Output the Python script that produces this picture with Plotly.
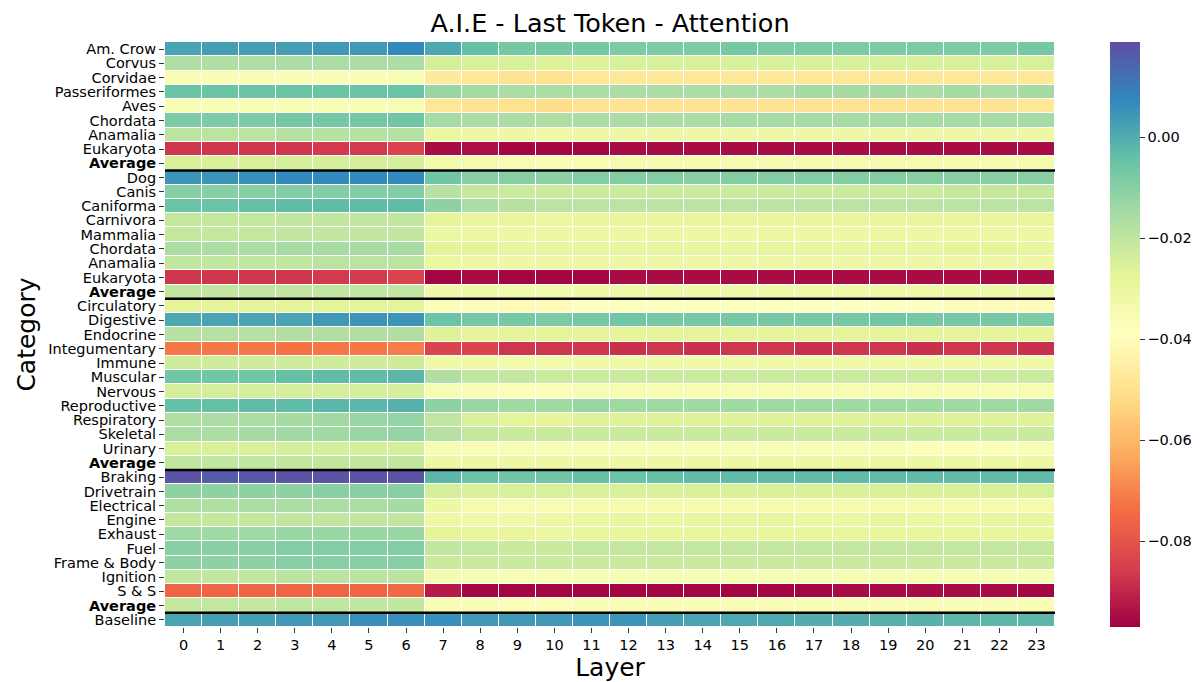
import plotly.graph_objects as go

layers = list(range(24))

categories = ["Am. Crow", "Corvus", "Corvidae", "Passeriformes", "Aves", "Chordata", "Anamalia", "Eukaryota", "Average",
              "Dog", "Canis", "Caniforma", "Carnivora", "Mammalia", "Chordata", "Anamalia", "Eukaryota", "Average",
              "Circulatory", "Digestive", "Endocrine", "Integumentary", "Immune", "Muscular", "Nervous", "Reproductive",
              "Respiratory", "Skeletal", "Urinary", "Average",
              "Braking", "Drivetrain", "Electrical", "Engine", "Exhaust", "Fuel", "Frame & Body", "Ignition", "S & S", "Average",
              "Baseline"]

birds = [
    [0.002,0.003,0.003,0.003,0.004,0.004,0.007, 0.001,-0.004,-0.007,-0.007,-0.007,-0.008,-0.008,-0.008,-0.007,-0.008,-0.008,-0.008,-0.008,-0.008,-0.008,-0.008,-0.007],
    [-0.017,-0.017,-0.017,-0.016,-0.016,-0.016,-0.016, -0.024,-0.025,-0.025,-0.026,-0.026,-0.025,-0.025,-0.025,-0.025,-0.025,-0.025,-0.025,-0.025,-0.025,-0.025,-0.025,-0.025],
    [-0.036,-0.036,-0.036,-0.036,-0.036,-0.036,-0.035, -0.047,-0.048,-0.049,-0.050,-0.048,-0.048,-0.048,-0.048,-0.048,-0.048,-0.048,-0.048,-0.048,-0.048,-0.048,-0.048,-0.048],
    [-0.005,-0.005,-0.005,-0.005,-0.005,-0.005,-0.005, -0.013,-0.015,-0.016,-0.016,-0.016,-0.016,-0.016,-0.016,-0.016,-0.016,-0.015,-0.015,-0.015,-0.016,-0.015,-0.016,-0.015],
    [-0.036,-0.036,-0.036,-0.036,-0.036,-0.036,-0.035, -0.048,-0.049,-0.050,-0.051,-0.049,-0.049,-0.049,-0.049,-0.049,-0.049,-0.049,-0.049,-0.049,-0.049,-0.049,-0.049,-0.048],
    [-0.008,-0.008,-0.008,-0.007,-0.007,-0.007,-0.006, -0.015,-0.016,-0.016,-0.017,-0.016,-0.016,-0.016,-0.016,-0.015,-0.015,-0.015,-0.015,-0.015,-0.015,-0.015,-0.015,-0.015],
    [-0.019,-0.019,-0.019,-0.018,-0.018,-0.018,-0.018, -0.030,-0.031,-0.031,-0.032,-0.031,-0.031,-0.031,-0.031,-0.031,-0.031,-0.031,-0.031,-0.031,-0.031,-0.031,-0.031,-0.031],
    [-0.087,-0.087,-0.087,-0.087,-0.086,-0.086,-0.084, -0.095,-0.094,-0.096,-0.096,-0.096,-0.095,-0.095,-0.095,-0.095,-0.095,-0.095,-0.095,-0.095,-0.095,-0.095,-0.095,-0.095],
    [-0.025,-0.025,-0.025,-0.024,-0.024,-0.024,-0.024, -0.033,-0.034,-0.035,-0.036,-0.035,-0.034,-0.034,-0.034,-0.034,-0.034,-0.034,-0.034,-0.034,-0.034,-0.034,-0.034,-0.034],
]

dogs = [
    [0.005,0.005,0.006,0.007,0.007,0.007,0.007, -0.006,-0.010,-0.010,-0.011,-0.009,-0.009,-0.009,-0.010,-0.009,-0.009,-0.009,-0.009,-0.009,-0.010,-0.010,-0.010,-0.010],
    [-0.010,-0.010,-0.010,-0.009,-0.009,-0.009,-0.009, -0.018,-0.021,-0.022,-0.022,-0.022,-0.022,-0.022,-0.022,-0.022,-0.022,-0.022,-0.022,-0.022,-0.022,-0.021,-0.021,-0.021],
    [-0.005,-0.005,-0.004,-0.003,-0.003,-0.003,-0.003, -0.011,-0.016,-0.018,-0.019,-0.019,-0.019,-0.019,-0.019,-0.019,-0.019,-0.019,-0.019,-0.019,-0.019,-0.019,-0.019,-0.019],
    [-0.021,-0.021,-0.021,-0.020,-0.020,-0.020,-0.020, -0.028,-0.029,-0.029,-0.030,-0.029,-0.029,-0.029,-0.029,-0.029,-0.029,-0.029,-0.029,-0.029,-0.029,-0.029,-0.029,-0.029],
    [-0.021,-0.021,-0.021,-0.020,-0.020,-0.020,-0.020, -0.030,-0.031,-0.031,-0.031,-0.031,-0.031,-0.031,-0.031,-0.031,-0.031,-0.031,-0.031,-0.031,-0.031,-0.031,-0.031,-0.031],
    [-0.016,-0.016,-0.016,-0.015,-0.015,-0.015,-0.015, -0.027,-0.027,-0.029,-0.029,-0.029,-0.029,-0.029,-0.029,-0.029,-0.029,-0.029,-0.029,-0.029,-0.029,-0.028,-0.028,-0.029],
    [-0.020,-0.020,-0.020,-0.020,-0.019,-0.019,-0.019, -0.030,-0.031,-0.031,-0.031,-0.031,-0.031,-0.031,-0.031,-0.031,-0.031,-0.031,-0.031,-0.031,-0.031,-0.031,-0.031,-0.031],
    [-0.087,-0.087,-0.087,-0.087,-0.086,-0.086,-0.084, -0.096,-0.095,-0.096,-0.096,-0.096,-0.095,-0.095,-0.095,-0.095,-0.095,-0.095,-0.095,-0.095,-0.095,-0.095,-0.095,-0.095],
    [-0.020,-0.020,-0.020,-0.020,-0.020,-0.020,-0.020, -0.032,-0.032,-0.033,-0.033,-0.032,-0.032,-0.032,-0.032,-0.032,-0.032,-0.032,-0.032,-0.032,-0.032,-0.032,-0.032,-0.032],
]

body = [
    [-0.028,-0.028,-0.028,-0.028,-0.027,-0.027,-0.027, -0.037,-0.040,-0.041,-0.041,-0.039,-0.038,-0.038,-0.038,-0.038,-0.038,-0.039,-0.039,-0.039,-0.039,-0.040,-0.040,-0.040],
    [0.001,0.002,0.002,0.002,0.004,0.005,0.005, -0.005,-0.007,-0.007,-0.008,-0.007,-0.006,-0.007,-0.007,-0.007,-0.007,-0.007,-0.007,-0.006,-0.007,-0.007,-0.007,-0.008],
    [-0.018,-0.018,-0.018,-0.017,-0.017,-0.017,-0.017, -0.026,-0.028,-0.028,-0.028,-0.028,-0.028,-0.028,-0.028,-0.028,-0.028,-0.028,-0.028,-0.028,-0.028,-0.028,-0.028,-0.028],
    [-0.072,-0.072,-0.072,-0.073,-0.072,-0.072,-0.071, -0.084,-0.084,-0.087,-0.087,-0.087,-0.088,-0.087,-0.088,-0.087,-0.087,-0.088,-0.087,-0.087,-0.088,-0.087,-0.087,-0.088],
    [-0.023,-0.023,-0.023,-0.023,-0.023,-0.023,-0.023, -0.032,-0.032,-0.033,-0.033,-0.032,-0.032,-0.032,-0.032,-0.032,-0.032,-0.032,-0.032,-0.032,-0.032,-0.032,-0.032,-0.032],
    [-0.006,-0.006,-0.006,-0.004,-0.003,-0.003,-0.002, -0.017,-0.020,-0.021,-0.022,-0.022,-0.022,-0.022,-0.022,-0.022,-0.022,-0.022,-0.022,-0.022,-0.022,-0.022,-0.022,-0.022],
    [-0.024,-0.024,-0.024,-0.024,-0.024,-0.024,-0.024, -0.035,-0.036,-0.037,-0.037,-0.035,-0.035,-0.035,-0.035,-0.035,-0.035,-0.035,-0.035,-0.035,-0.035,-0.035,-0.035,-0.035],
    [-0.004,-0.004,-0.003,-0.003,-0.002,-0.002,-0.001, -0.011,-0.013,-0.014,-0.014,-0.013,-0.014,-0.014,-0.014,-0.014,-0.014,-0.014,-0.014,-0.014,-0.014,-0.014,-0.014,-0.014],
    [-0.017,-0.016,-0.016,-0.015,-0.014,-0.013,-0.012, -0.020,-0.025,-0.027,-0.028,-0.026,-0.026,-0.026,-0.026,-0.026,-0.026,-0.026,-0.026,-0.026,-0.026,-0.026,-0.026,-0.026],
    [-0.016,-0.016,-0.015,-0.014,-0.014,-0.013,-0.012, -0.018,-0.021,-0.022,-0.022,-0.022,-0.022,-0.022,-0.022,-0.022,-0.022,-0.022,-0.022,-0.022,-0.022,-0.022,-0.022,-0.022],
    [-0.025,-0.025,-0.025,-0.024,-0.024,-0.024,-0.024, -0.035,-0.036,-0.036,-0.036,-0.036,-0.036,-0.036,-0.036,-0.036,-0.036,-0.036,-0.036,-0.036,-0.037,-0.037,-0.037,-0.036],
    [-0.020,-0.020,-0.020,-0.020,-0.020,-0.020,-0.020, -0.031,-0.031,-0.031,-0.031,-0.031,-0.031,-0.031,-0.031,-0.031,-0.031,-0.031,-0.031,-0.031,-0.031,-0.031,-0.031,-0.031],
]

car = [
    [0.018,0.016,0.017,0.018,0.018,0.018,0.018, -0.002,-0.005,-0.006,-0.006,-0.004,-0.005,-0.004,-0.003,-0.003,-0.003,-0.003,-0.003,-0.003,-0.003,-0.003,-0.003,-0.003],
    [-0.011,-0.011,-0.011,-0.011,-0.010,-0.010,-0.010, -0.024,-0.025,-0.025,-0.025,-0.025,-0.025,-0.025,-0.025,-0.025,-0.025,-0.025,-0.025,-0.025,-0.025,-0.025,-0.025,-0.025],
    [-0.017,-0.017,-0.016,-0.016,-0.016,-0.016,-0.015, -0.031,-0.034,-0.035,-0.035,-0.034,-0.034,-0.034,-0.034,-0.034,-0.034,-0.034,-0.034,-0.034,-0.034,-0.034,-0.034,-0.034],
    [-0.021,-0.021,-0.021,-0.020,-0.020,-0.020,-0.020, -0.031,-0.032,-0.032,-0.031,-0.030,-0.029,-0.030,-0.029,-0.029,-0.029,-0.030,-0.030,-0.029,-0.030,-0.030,-0.029,-0.029],
    [-0.014,-0.014,-0.014,-0.013,-0.013,-0.013,-0.013, -0.027,-0.029,-0.029,-0.030,-0.029,-0.029,-0.029,-0.029,-0.029,-0.029,-0.029,-0.029,-0.029,-0.029,-0.029,-0.029,-0.029],
    [-0.010,-0.010,-0.010,-0.009,-0.009,-0.009,-0.009, -0.020,-0.021,-0.022,-0.022,-0.021,-0.021,-0.021,-0.021,-0.021,-0.021,-0.021,-0.021,-0.021,-0.021,-0.021,-0.021,-0.021],
    [-0.011,-0.011,-0.011,-0.010,-0.010,-0.010,-0.010, -0.022,-0.022,-0.022,-0.022,-0.022,-0.022,-0.022,-0.022,-0.022,-0.022,-0.022,-0.022,-0.022,-0.022,-0.022,-0.022,-0.022],
    [-0.020,-0.020,-0.020,-0.019,-0.019,-0.019,-0.019, -0.034,-0.035,-0.036,-0.036,-0.035,-0.035,-0.035,-0.035,-0.035,-0.035,-0.035,-0.035,-0.035,-0.035,-0.035,-0.035,-0.035],
    [-0.076,-0.076,-0.076,-0.076,-0.076,-0.076,-0.075, -0.092,-0.096,-0.096,-0.096,-0.096,-0.096,-0.096,-0.096,-0.096,-0.096,-0.096,-0.095,-0.095,-0.095,-0.095,-0.095,-0.096],
    [-0.021,-0.021,-0.021,-0.020,-0.020,-0.020,-0.020, -0.036,-0.036,-0.037,-0.037,-0.036,-0.036,-0.036,-0.036,-0.036,-0.036,-0.036,-0.036,-0.036,-0.036,-0.036,-0.036,-0.036],
]

baseline = [
    [0.002,0.003,0.003,0.004,0.004,0.006,0.006, 0.006,0.004,0.004,0.004,0.005,0.005,0.003,0.002,0.001,0.001,0.000,0.000,-0.001,-0.001,-0.002,-0.002,-0.002],
]

z = birds + dogs + body + car + baseline
row_idx = list(range(len(categories)))
tick_text = ["<b>Average</b>" if c == "Average" else c for c in categories]
separators = [8.5, 17.5, 29.5, 39.5]

spectral = ['rgb(158,1,66)', 'rgb(213,62,79)', 'rgb(244,109,67)', 'rgb(253,174,97)',
            'rgb(254,224,139)', 'rgb(255,255,191)', 'rgb(230,245,152)', 'rgb(171,221,164)',
            'rgb(102,194,165)', 'rgb(50,136,189)', 'rgb(94,79,162)']

FONT = "DejaVu Sans"
W, H = 1200, 682
OFF = 8  # page body margin of the html page
L, T = 165 - OFF, 42 - OFF
plot_w, plot_h = 890, 585
R, B = W - L - plot_w, H - T - plot_h

fig = go.Figure(go.Heatmap(
    z=z, x=layers, y=row_idx,
    colorscale=spectral, zmin=-0.0970, zmax=0.0189,
    xgap=1, ygap=1,
    colorbar=dict(
        x=(1110 - OFF - L) / plot_w, xanchor="left", xpad=0,
        y=0.5, yanchor="middle", ypad=0,
        len=1.0, lenmode="fraction", thickness=30, outlinewidth=0,
        tickvals=[0.0, -0.02, -0.04, -0.06, -0.08],
        ticktext=["0.00", "\u22120.02", "\u22120.04", "\u22120.06", "\u22120.08"],
        ticks="outside", ticklen=5, tickcolor="#333",
        tickfont=dict(family=FONT, size=14.5, color="black"),
    ),
))

for s in separators:
    fig.add_shape(type="line", x0=-0.5, x1=23.5, y0=s, y1=s, xref="x", yref="y",
                  line=dict(color="black", width=2.5))

fig.update_layout(
    width=W, height=H,
    margin=dict(l=L, r=R, t=T, b=B, autoexpand=False),
    plot_bgcolor="white", paper_bgcolor="white",
    font=dict(family=FONT, color="black"),
    title=dict(text="A.I.E - Last Token - Attention", x=(L + plot_w / 2) / W, xanchor="center",
               y=1 - (23 - OFF) / H, yanchor="middle",
               font=dict(family=FONT, size=25.5, color="black")),
    xaxis=dict(
        tickmode="array", tickvals=layers, ticktext=[str(l) for l in layers],
        range=[-0.5, 23.5], showgrid=False, zeroline=False,
        ticks="outside", ticklen=5, tickcolor="#333",
        tickfont=dict(family=FONT, size=14.5, color="black"),
        title=dict(text="Layer", font=dict(family=FONT, size=25, color="black"), standoff=1),
    ),
    yaxis=dict(
        tickmode="array", tickvals=row_idx, ticktext=tick_text,
        range=[40.5, -0.5], showgrid=False, zeroline=False,
        ticks="outside", ticklen=5, tickcolor="#333",
        tickfont=dict(family=FONT, size=14.5, color="black"),
        title=dict(text="Category", font=dict(family=FONT, size=25, color="black"), standoff=5),
    ),
)

fig.write_html("out.html")
